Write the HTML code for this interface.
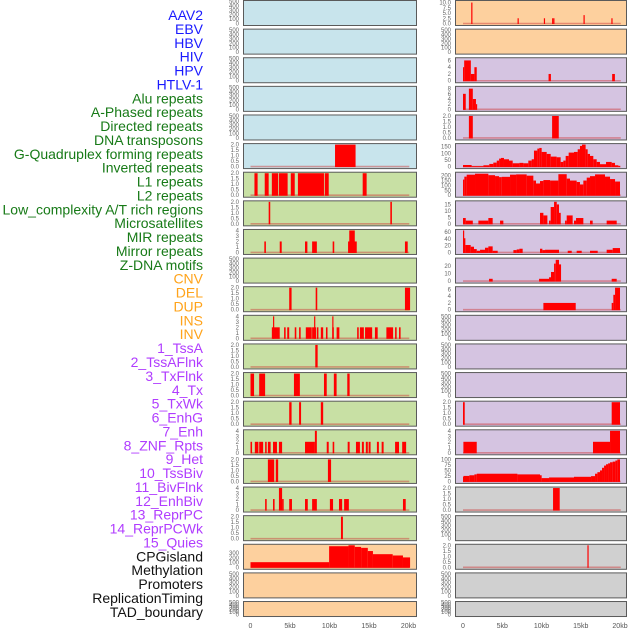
<!DOCTYPE html>
<html><head><meta charset="utf-8"><style>
html,body{margin:0;padding:0;background:#fff;}
svg{display:block;font-family:"Liberation Sans",sans-serif;}
</style></head><body>
<svg id="chart" width="630" height="630" viewBox="0 0 630 630" xmlns="http://www.w3.org/2000/svg"></svg>
<script>
// ---- data ----
const labels = ["AAV2","EBV","HBV","HIV","HPV","HTLV-1","Alu repeats","A-Phased repeats","Directed repeats","DNA transposons","G-Quadruplex forming repeats","Inverted repeats","L1 repeats","L2 repeats","Low_complexity A/T rich regions","Microsatellites","MIR repeats","Mirror repeats","Z-DNA motifs","CNV","DEL","DUP","INS","INV","1_TssA","2_TssAFlnk","3_TxFlnk","4_Tx","5_TxWk","6_EnhG","7_Enh","8_ZNF_Rpts","9_Het","10_TssBiv","11_BivFlnk","12_EnhBiv","13_ReprPC","14_ReprPCWk","15_Quies","CPGisland","Methylation","Promoters","ReplicationTiming","TAD_boundary"];
const labelGroups = ["v","v","v","v","v","v","r","r","r","r","r","r","r","r","r","r","r","r","r","c","c","c","c","c","h","h","h","h","h","h","h","h","h","h","h","h","h","h","h","o","o","o","o","o"];
const xTicks = [0,5,10,15,20];
const xTickLabels = ["0","5kb","10kb","15kb","20kb"];
const leftBg = ["b","b","b","b","b","b","g","g","g","g","g","g","g","g","g","g","g","g","g","o","o","o"];
const rightBg = ["o","o","p","p","p","p","p","p","p","p","p","p","p","p","p","p","p","y","y","y","y","y"];
const leftMax = [500,500,500,500,500,2,2,2,4,500,2,4,2,2,2,4,2,4,2,470,500,500];
const rightMax = [10.5,500,6.5,8.5,2,165,225,17,65,29,6.5,500,500,500,2,4,100,2,500,2,500,500];
const leftTicks = [[0,100,200,300,400,500],[0,100,200,300,400,500],[0,100,200,300,400,500],[0,100,200,300,400,500],[0,100,200,300,400,500],[0,0.5,1,1.5,2],[0,0.5,1,1.5,2],[0,0.5,1,1.5,2],[0,1,2,3,4],[0,100,200,300,400,500],[0,0.5,1,1.5,2],[0,1,2,3,4],[0,0.5,1,1.5,2],[0,0.5,1,1.5,2],[0,0.5,1,1.5,2],[0,1,2,3,4],[0,0.5,1,1.5,2],[0,1,2,3,4],[0,0.5,1,1.5,2],[0,100,200,300],[0,100,200,300,400,500],[0,100,200,300,400,500]];
const rightTicks = [[0,2.5,5,7.5,10],[0,100,200,300,400,500],[0,2,4,6],[0,2,4,6,8],[0,0.5,1,1.5,2],[0,50,100,150],[0,50,100,150,200],[0,5,10,15],[0,20,40,60],[0,10,20],[0,2,4,6],[0,100,200,300,400,500],[0,100,200,300,400,500],[0,100,200,300,400,500],[0,0.5,1,1.5,2],[0,1,2,3,4],[0,25,50,75,100],[0,0.5,1,1.5,2],[0,100,200,300,400,500],[0,0.5,1,1.5,2],[0,100,200,300,400,500],[0,100,200,300,400,500]];

// segments: [startKb, endKb, value]
const lGQuad = [[10.7,13.3,2]];
const lL1 = [[0.5,0.9,2],[1.8,2.3,2],[2.7,3.5,2],[3.6,4.7,2],[5.1,5.6,2],[6.0,9.3,2],[9.4,9.9,2],[14.2,14.7,2]];
const lLowCx = [[2.3,2.5,2],[17.7,17.9,2]];
const lMIR = [[1.75,1.95,2],[3.7,3.95,2],[6.9,7.2,2],[7.8,8.4,2],[10.4,10.6,2],[12.35,13.45,2],[12.5,13.2,4],[19.55,19.9,2]];
const lDEL = [[4.9,5.2,2],[8.25,8.45,2],[19.55,20.2,2]];
const lINS = [[2.7,3.7,2],[2.85,3.0,4],[4.25,4.45,2],[4.65,4.9,2],[5.6,5.8,2],[6.15,6.35,2],[7.0,7.75,2],[7.8,8.3,2],[8.05,8.2,4],[8.4,8.6,2],[8.9,9.2,2],[9.55,9.75,2],[10.35,10.55,2],[10.35,10.5,4],[10.9,11.25,2],[13.5,13.7,2],[13.85,14.35,2],[14.5,15.4,2],[15.75,16.1,2],[17.2,18.05,2],[18.3,18.5,2],[18.8,19.0,2]];
const lTssA = [[8.2,8.5,2]];
const lTxFlnk = [[0,0.45,2],[1.1,1.85,2],[5.5,6.25,2],[9.3,9.65,2],[10.55,10.9,2],[12.25,12.55,2]];
const lTxWk = [[4.9,5.2,2],[6.15,6.4,2],[8.9,9.2,2]];
const lEnh = [[0,0.2,2],[0.55,1.0,2],[1.1,1.6,2],[1.85,2.05,2],[2.2,2.55,2],[2.85,3.35,2],[3.6,4.0,2],[6.9,8.15,2],[8.15,8.4,4],[9.65,9.9,2],[10.4,10.6,2],[12.3,12.55,2],[13.35,13.85,2],[14.1,14.35,2],[14.6,14.85,2],[14.95,15.2,2],[16.0,16.25,2],[16.6,16.85,2],[18.3,18.8,2],[19.2,19.7,2]];
const lHet = [[2.2,3.0,2],[3.2,3.5,2],[9.8,10.2,2]];
const lBivFlnk = [[1.85,2.05,2],[2.85,3.05,2],[3.6,4.0,4],[4.0,4.2,2],[4.9,5.25,2],[6.9,7.25,2],[7.8,8.4,2],[10.05,10.45,2],[11.2,11.6,2],[11.85,12.45,2],[19.3,19.65,2]];
const lReprPC = [[11.45,11.7,2]];
const lCPG = [[0,9.95,109],[9.95,12.4,450],[12.4,13.2,470],[13.2,14.0,435],[14.0,14.85,415],[14.85,15.5,347],[15.5,18.0,280],[18.0,19.3,252],[19.3,20.2,211]];

const rAAV2 = [[1.05,1.2,10],[6.95,7.1,2.5],[10.3,10.45,2.5],[11.35,11.45,2.5],[11.5,11.6,2.5],[15.35,15.5,4],[18.9,19.05,2.5]];
const rHIV = [[0,0.15,4],[0.15,1.0,6],[1.0,1.45,2],[1.45,1.75,4],[10.9,11.2,2],[19.0,19.35,2]];
const rHPV = [[0,0.35,6],[0.75,1.25,8],[1.25,1.65,4],[1.65,1.75,2]];
const rAlu = [[0.75,1.25,2],[11.35,12.2,2]];
const rGQuad = [[0,1.1,12],[1.1,2.6,3],[2.6,3.35,10],[3.35,3.86,20],[3.86,4.3,30],[4.3,4.6,45],[4.6,4.84,60],[4.84,5.22,65],[5.22,5.86,55],[5.86,6.33,45],[6.33,7.18,25],[7.18,7.69,28],[7.69,8.32,25],[8.32,8.75,45],[8.75,9.04,55],[9.04,9.47,120],[9.47,9.72,135],[9.72,10.02,140],[10.02,10.66,110],[10.66,11.17,95],[11.17,11.93,75],[11.93,12.44,70],[12.44,12.78,35],[12.78,13.08,45],[13.08,13.46,80],[13.46,14.14,105],[14.14,14.61,110],[14.61,14.9,130],[14.9,15.16,155],[15.16,15.62,165],[15.62,15.88,130],[15.88,16.18,95],[16.18,16.6,80],[16.6,17.03,55],[17.03,17.45,35],[17.45,18.22,18],[18.22,18.94,35],[18.94,19.36,28],[19.36,19.79,10],[19.79,20.0,5]];
const rL1 = [[0,0.17,160],[0.17,0.47,190],[0.47,1.53,210],[1.53,3.23,220],[3.23,4.08,205],[4.08,4.59,195],[4.59,4.93,185],[4.93,5.99,188],[5.99,6.76,210],[6.76,8.11,213],[8.11,8.96,200],[8.96,9.3,150],[9.3,9.81,120],[9.81,10.24,145],[10.24,11.09,155],[11.09,12.15,150],[12.15,13.21,215],[13.21,13.63,170],[13.63,14.48,150],[14.48,14.9,135],[14.9,15.33,110],[15.33,15.76,150],[15.76,16.18,180],[16.18,16.82,195],[16.82,18.09,213],[18.09,18.73,190],[18.73,19.37,165],[19.37,20.0,140]];
const rLowCx = [[0,0.35,4.5],[0.35,1.25,2.5],[1.96,3.23,2.5],[3.23,3.78,4.5],[4.72,5.14,2.5],[9.81,10.24,8.5],[10.24,10.75,6.5],[10.96,11.17,2.5],[11.17,11.6,13],[11.6,11.94,17],[11.94,12.23,15],[12.23,12.45,8.5],[13.0,13.21,2.5],[13.21,13.97,6.5],[14.14,14.4,2.5],[14.4,15.33,4.5],[16.18,16.52,2.5],[18.3,19.58,2.5]];
const rMIR = [[0,0.05,65],[0.05,0.3,42],[0.3,0.98,22],[0.98,1.4,17],[1.4,1.75,10],[1.75,2.17,5],[2.17,2.8,8],[2.8,3.23,14],[3.23,3.78,18],[3.78,4.42,5],[6.42,6.84,7],[6.84,7.18,9],[7.18,7.6,11],[9.81,10.11,11],[10.11,10.45,7],[10.45,12.23,8],[13.34,13.85,5],[14.48,15.12,5],[16.18,17.16,5],[18.3,19.07,8],[19.07,20.0,13]];
const rZDNA = [[3.32,3.78,3],[9.69,10.96,3],[10.96,11.21,5],[11.21,11.6,12],[11.6,11.81,23],[11.81,12.23,28],[12.23,12.49,22],[18.94,19.58,3]];
const rDEL = [[10.24,14.36,2],[18.94,19.15,2],[19.15,19.37,4.4],[19.37,20.0,6.5]];
const rTxWk = [[0,0.22,2],[18.94,20.0,2]];
const rEnh = [[0.05,1.75,2],[16.56,18.73,2],[18.73,20.0,4]];
const rHet = [[0,0.05,20],[0.05,0.81,25],[0.81,1.45,28],[1.45,1.75,32],[1.75,6.93,35],[6.93,9.81,32],[9.81,10.02,28],[10.02,10.96,15],[10.96,14.14,18],[14.14,16.31,21],[16.31,16.82,24],[16.82,17.12,35],[17.12,17.45,42],[17.45,17.71,50],[17.71,17.97,62],[17.97,18.22,72],[18.22,18.48,78],[18.48,18.73,82],[18.73,19.07,87],[19.07,19.41,90],[19.41,19.66,95],[19.66,20.0,100]];
const rBivFlnk = [[11.47,12.32,2]];
const rCPG = [[15.85,16.0,2]];

const leftData = [null,null,null,null,null,lGQuad,lL1,lLowCx,lMIR,null,lDEL,lINS,lTssA,lTxFlnk,lTxWk,lEnh,lHet,lBivFlnk,lReprPC,lCPG,null,null];
const rightData = [rAAV2,null,rHIV,rHPV,rAlu,rGQuad,rL1,rLowCx,rMIR,rZDNA,rDEL,null,null,null,rTxWk,rEnh,rHet,rBivFlnk,null,rCPG,null,null];

// ---- drawing ----
const NS = "http://www.w3.org/2000/svg";
const svg = document.getElementById("chart");
const bgColors = {b:"#c8e4ec",g:"#c8e0a4",o:"#fdd09e",p:"#d5c4e1",y:"#d0d0d0"};
const labelColors = {v:"#1a1aff",r:"#177a17",c:"#ffa31a",h:"#b03cff",o:"#111111"};
function mk(tag, attrs, parent){
  const e = document.createElementNS(NS, tag);
  for (const k in attrs) e.setAttribute(k, attrs[k]);
  (parent||svg).appendChild(e);
  return e;
}
function rowTop(k){ return k*28.62; }
function rowH(k){ return k===21 ? 15 : 25; }
const cols = [
  {x0:243, x1:416, zeroX:250.5, kbPx:7.9, bg:leftBg, max:leftMax, ticks:leftTicks, data:leftData, tickX:239, side:"left"},
  {x0:455, x1:626, zeroX:463, kbPx:7.85, bg:rightBg, max:rightMax, ticks:rightTicks, data:rightData, tickX:451, side:"right"}
];
function fmt(t, ticks){
  const dec = ticks.some(v => v%1!==0);
  if (!dec) return String(t);
  return t.toFixed(1);
}
labels.forEach((lab,i)=>{
  const t = mk("text",{x:203,y:20+i*13.88,"text-anchor":"end","font-size":"14",fill:labelColors[labelGroups[i]]});
  
  
  t.textContent = lab;
});
cols.forEach(c=>{
  const xs = kb => c.zeroX + kb*c.kbPx;
  for (let k=0;k<22;k++){
    const top = rowTop(k), h = rowH(k);
    const g = mk("g",{});
    
    
    const r = mk("rect",{x:c.x0+0.5,y:top+0.5,width:c.x1-c.x0,height:h,fill:bgColors[c.bg[k]],stroke:"#5a5a5a","stroke-width":"1"},g);
    
    
    const max = c.max[k];
    const ys = v => top + h - 1.5 - v/max*(h-3);
    c.ticks[k].forEach(t=>{
      const tt = mk("text",{x:c.tickX,y:ys(t)+2,"text-anchor":"end","font-size":"6",fill:"#666"},g);
      
      
      tt.textContent = fmt(t, c.ticks[k]);
    });
    const d = c.data[k];
    if (d){
      const bl = mk("line",{x1:xs(0),x2:xs(20.1),y1:ys(0),y2:ys(0),stroke:"rgba(205,50,50,0.45)","stroke-width":"1.6"},g);
      
      
      d.forEach(s=>{
        const x1 = xs(s[0]), x2 = xs(s[1]);
        const w = Math.max(1.2, x2-x1);
        const b = mk("rect",{x:x1,y:ys(s[2]),width:w,height:Math.max(0,ys(0)-ys(s[2])+0.5),fill:"#ff0000"},g);
        
        
      });
    }
  }
  xTicks.forEach((t,i)=>{
    const tl = mk("text",{x:xs(t),y:628,"text-anchor":"middle","font-size":"7",fill:"#555"});
    
    
    tl.textContent = xTickLabels[i];
  });
});
</script>
</body></html>
